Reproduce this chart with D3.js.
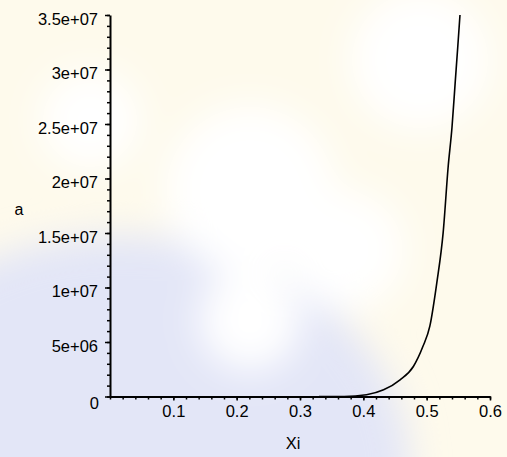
<!DOCTYPE html>
<html>
<head>
<meta charset="utf-8">
<script src="https://cdn.jsdelivr.net/npm/d3@7"></script>
<style>
    body { margin: 0; background: #fff; }
    svg { display: block; font-family: "Liberation Sans", Arial, sans-serif; }
    .axis path, .axis line { stroke: #000; }
    .axis text { fill: #000; font-size: 16.5px; }
</style>
</head>
<body>
<div id="chart"></div>
<script>
'use strict'

// Curve: Xi against a.
const xiValues = [0.33, 0.37, 0.405, 0.432, 0.458, 0.479, 0.494, 0.505, 0.516, 0.526, 0.534, 0.540, 0.545, 0.549, 0.5526];
const aValues = [0, 0, 1.6e5, 6.1e5, 1.53e6, 2.75e6, 4.58e6, 6.45e6, 1.043e7, 1.501e7, 2.112e7, 2.47e7, 2.877e7, 3.2e7, 3.5e7];

// Tick values and labels.
const xTicks = [0.1, 0.2, 0.3, 0.4, 0.5, 0.6];
const xTickLabels = ['0.1', '0.2', '0.3', '0.4', '0.5', '0.6'];
const yTicks = [0, 5e6, 1e7, 1.5e7, 2e7, 2.5e7, 3e7, 3.5e7];
const yTickLabels = ['0', '5e+06', '1e+07', '1.5e+07', '2e+07', '2.5e+07', '3e+07', '3.5e+07'];

let width = 507,
    height = 457;

let svg = d3.select('#chart')
    .append('svg')
        .attr('width', width)
        .attr('height', height);

// Faded watermark behind the plot.
let defs = svg.append('defs');
defs.append('filter')
        .attr('id', 'soft')
        .attr('x', '-50%').attr('y', '-50%')
        .attr('width', '200%').attr('height', '200%')
    .append('feGaussianBlur')
        .attr('stdDeviation', 18);

svg.append('rect')
    .attr('width', width).attr('height', height)
    .attr('fill', '#fefaec');

let bg = svg.append('g').attr('filter', 'url(#soft)');
bg.append('ellipse')
    .attr('cx', 120).attr('cy', 470)
    .attr('rx', 290).attr('ry', 235)
    .attr('fill', '#e3e6f7');
[[250, 190, 85], [345, 250, 60], [250, 320, 50], [90, 120, 50], [420, 60, 70]].forEach(([cx, cy, r]) => {
    bg.append('circle')
        .attr('cx', cx).attr('cy', cy).attr('r', r)
        .attr('fill', '#ffffff');
});

let x = d3.scaleLinear()
    .domain([0, 0.6])
    .range([110, 490]);

let y = d3.scaleLinear()
    .domain([0, 3.5e7])
    .range([396.5, 15]);

// Minor ticks.
let xMinor = d3.range(0, 0.6001, 0.02);
let yMinor = d3.range(0, 3.5e7 + 1, 1e6);

svg.append('g')
    .attr('class', 'axis')
    .attr('transform', `translate(0, ${y(0)})`)
    .call(d3.axisBottom(x).tickValues(xMinor).tickSize(3).tickFormat(''))
    .call(g => g.select('.domain').remove())
    .selectAll('line').attr('stroke-width', 1.5);

svg.append('g')
    .attr('class', 'axis')
    .attr('transform', `translate(${x(0)}, 0)`)
    .call(d3.axisLeft(y).tickValues(yMinor).tickSize(3).tickFormat(''))
    .call(g => g.select('.domain').remove())
    .selectAll('line').attr('stroke-width', 1.5);

// Major ticks and labels.
let xAxis = svg.append('g')
    .attr('class', 'axis')
    .attr('transform', `translate(0, ${y(0)})`)
    .call(d3.axisBottom(x)
        .tickValues(xTicks)
        .tickSize(4)
        .tickSizeOuter(0)
        .tickPadding(5)
        .tickFormat((d, i) => xTickLabels[i]));
xAxis.select('.domain').attr('stroke-width', 2);
xAxis.selectAll('line').attr('stroke-width', 1.5);

let yAxis = svg.append('g')
    .attr('class', 'axis')
    .attr('transform', `translate(${x(0)}, 0)`)
    .call(d3.axisLeft(y)
        .tickValues(yTicks)
        .tickSize(5)
        .tickSizeOuter(0)
        .tickPadding(7)
        .tickFormat((d, i) => yTickLabels[i]));
yAxis.select('.domain').attr('stroke-width', 2);
yAxis.selectAll('line').attr('stroke-width', 1.5);
yAxis.selectAll('text').attr('dy', '0.55em');
// zero label sits a little lower and further left
yAxis.selectAll('.tick').filter(d => d === 0)
    .select('text').attr('x', -11).attr('dy', '0.73em');

// Axis titles.
svg.append('text')
    .attr('x', 293)
    .attr('y', 449)
    .attr('text-anchor', 'middle')
    .attr('font-size', 16.5)
    .attr('fill', '#000')
    .text('Xi');

svg.append('text')
    .attr('x', 19)
    .attr('y', 215)
    .attr('text-anchor', 'middle')
    .attr('font-size', 16)
    .attr('fill', '#000')
    .text('a');

// Draw the curve.
let line = d3.line()
    .x((d, i) => x(xiValues[i]))
    .y(d => y(d))
    .curve(d3.curveMonotoneX);

svg.append('path')
    .datum(aValues)
    .attr('fill', 'none')
    .attr('stroke', '#000')
    .attr('stroke-width', 1.6)
    .attr('d', line);
</script>
</body>
</html>
